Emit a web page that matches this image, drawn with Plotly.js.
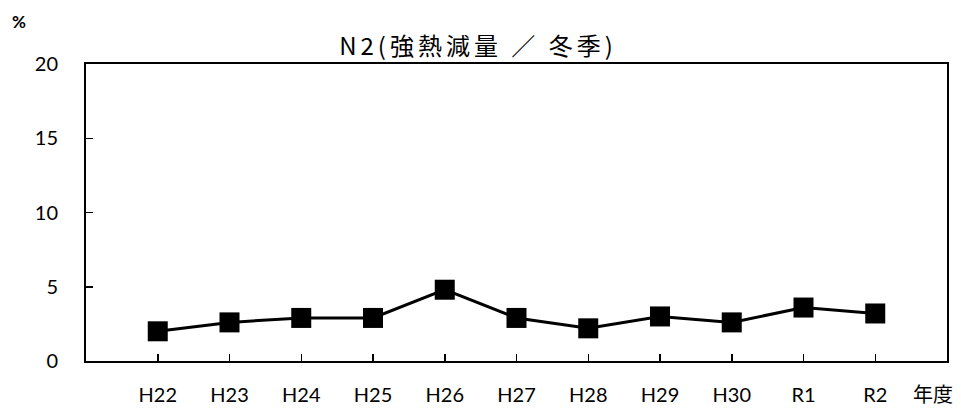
<!DOCTYPE html>
<html><head><meta charset="utf-8">
<script src="https://cdn.plot.ly/plotly-3.0.1.min.js"></script>
<style>html,body{margin:0;padding:0;background:#fff}#c{width:961px;height:410px}
.gtitle{letter-spacing:4px}</style>
</head><body><div id="c"></div>
<script>
const categories = ["H22","H23","H24","H25","H26","H27","H28","H29","H30","R1","R2"];
const values = [2.0, 2.6, 2.9, 2.9, 4.8, 2.9, 2.2, 3.0, 2.6, 3.6, 3.2];
const yTicks = [0, 5, 10, 15, 20];
const titleText = "N2(強熱減量 ／ 冬季)";
const yUnit = "%";
const xUnit = "年度";

const xIdx = categories.map((_, i) => i);
const trace = {
  x: xIdx, y: values, type: "scatter", mode: "lines+markers",
  line: {color: "#000", width: 3},
  marker: {symbol: "square", size: 20, color: "#000"},
  hoverinfo: "skip"
};
const fontBase = "Lato, 'Noto Sans CJK JP', sans-serif";
const layout = {
  width: 961, height: 410,
  margin: {l: 86, r: 14, t: 64, b: 49},
  paper_bgcolor: "#fff", plot_bgcolor: "#fff",
  showlegend: false,
  font: {family: fontBase, size: 20, color: "#000"},
  title: {text: titleText, font: {family: "'Noto Sans CJK JP', sans-serif", size: 24, color: "#000"},
          x: (478-86)/861, xanchor: "center", xref: "paper", y: 1 - 47/410, yanchor: "middle", yref: "container"},
  xaxis: {
    range: [-1, 11], tickvals: xIdx, ticktext: categories,
    showgrid: false, zeroline: false,
    showline: true, linecolor: "#000", linewidth: 2, mirror: true,
    ticks: "inside", ticklen: 7, tickwidth: 1.5, tickcolor: "#000",
    ticklabelstandoff: 15,
    tickfont: {family: fontBase, size: 20, color: "#000"}
  },
  yaxis: {
    range: [0, 20], tickvals: yTicks,
    showgrid: false, zeroline: false,
    showline: true, linecolor: "#000", linewidth: 2, mirror: true,
    ticks: "inside", ticklen: 7, tickwidth: 1.5, tickcolor: "#000",
    ticklabelstandoff: 22,
    tickfont: {family: fontBase, size: 20, color: "#000"}
  },
  annotations: [
    {text: "<b>" + yUnit + "</b>", xref: "paper", yref: "paper", x: -86/861, y: 1 + 42/297, xanchor: "left", yanchor: "middle",
     showarrow: false, font: {family: fontBase, size: 17, color: "#000"}, xshift: 10},
    {text: xUnit, xref: "paper", yref: "paper", x: (933-86)/861, y: -32/297, xanchor: "center", yanchor: "middle",
     showarrow: false, font: {family: "'Noto Sans CJK JP', sans-serif", size: 20, color: "#000"}}
  ]
};
Plotly.newPlot("c", [trace], layout, {staticPlot: true, displayModeBar: false});
</script></body></html>
